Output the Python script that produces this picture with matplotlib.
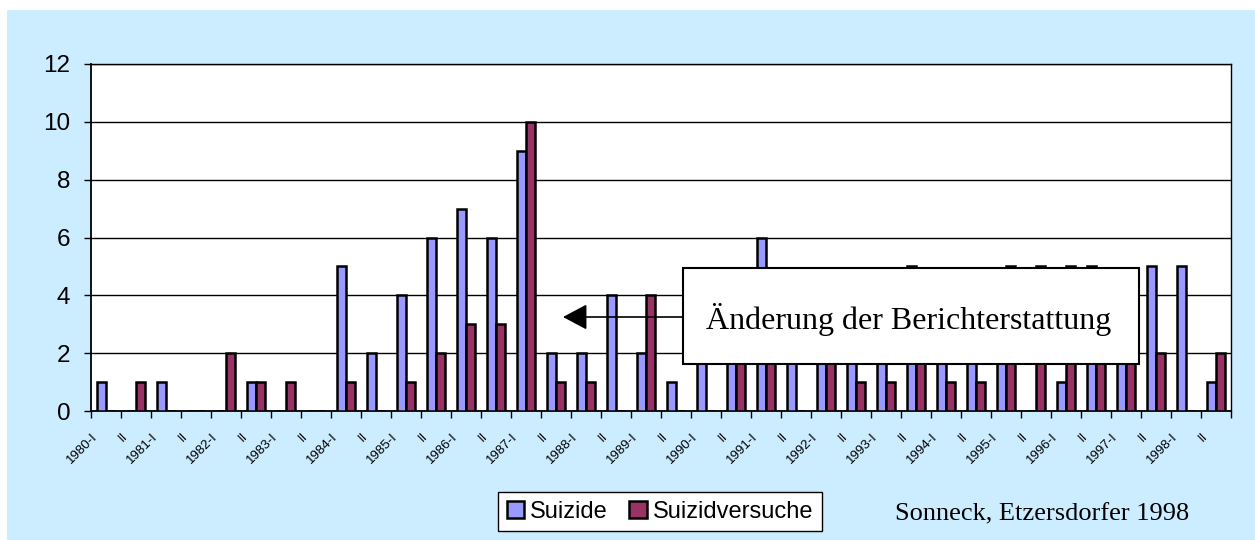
import matplotlib
matplotlib.use("Agg")
import matplotlib.pyplot as plt
import matplotlib.transforms as mtransforms
from matplotlib.patches import Rectangle, Patch, FancyArrowPatch
import numpy as np

categories = ["1980-I", "II", "1981-I", "II", "1982-I", "II", "1983-I", "II",
              "1984-I", "II", "1985-I", "II", "1986-I", "II", "1987-I", "II",
              "1988-I", "II", "1989-I", "II", "1990-I", "II", "1991-I", "II",
              "1992-I", "II", "1993-I", "II", "1994-I", "II", "1995-I", "II",
              "1996-I", "II", "1997-I", "II", "1998-I", "II"]
suizide = [1, 0, 1, 0, 0, 1, 0, 0, 5, 2, 4, 6, 7, 6, 9, 2, 2, 4, 2, 1,
           3, 3, 6, 2, 3, 4, 3, 5, 3, 2, 3, 0, 1, 5, 3, 5, 5, 1]
suizidversuche = [0, 1, 0, 0, 2, 1, 1, 0, 1, 0, 1, 2, 3, 3, 10, 1, 1, 0, 4, 0,
                  0, 2, 3, 0, 2, 1, 1, 2, 1, 1, 5, 5, 5, 3, 2, 2, 0, 2]
yticks = [0, 2, 4, 6, 8, 10, 12]

W, H = 1255, 540
fig = plt.figure(figsize=(W / 100, H / 100), dpi=100)
fig.patch.set_facecolor("white")
bg = Rectangle((7 / W, 0), 1 - 7 / W, 1 - 10 / H, transform=fig.transFigure,
               facecolor="#CCECFF", edgecolor="none", zorder=-5)
fig.add_artist(bg)

ax = fig.add_axes([91 / W, 1 - 411 / H, (1231 - 91) / W, (411 - 64) / H])
ax.set_zorder(1)
ax.set_facecolor("white")
x = np.arange(len(categories))
bw = 0.3
ax.bar(x - bw / 2, suizide, bw, color="#9999FF", edgecolor="black",
       linewidth=1.8, zorder=3, label="Suizide")
ax.bar(x + bw / 2, suizidversuche, bw, color="#993366", edgecolor="black",
       linewidth=1.8, zorder=3, label="Suizidversuche")

ax.set_xlim(-0.5, len(categories) - 0.5)
ax.set_ylim(0, 12)
ax.set_yticks(yticks)
ax.set_yticklabels([str(v) for v in yticks], fontsize=17.5, family="Liberation Sans")
ax.yaxis.grid(True, color="black", linewidth=1.0, zorder=1)
ax.set_axisbelow(True)
for s in ax.spines.values():
    s.set_color("black")
    s.set_linewidth(1.0)
ax.spines["left"].set_linewidth(1.3)
ax.spines["bottom"].set_linewidth(1.3)
ax.tick_params(axis="y", length=5, width=1, direction="out", pad=10)

ax.set_xticks(x)
ax.set_xticklabels(categories, rotation=45, ha="right", va="top",
                   fontsize=9.5, family="Liberation Sans")
ax.set_xticks(np.arange(len(categories) + 1) - 0.5, minor=True)
ax.tick_params(axis="x", which="major", length=0, pad=14)
ax.tick_params(axis="x", which="minor", length=5, width=1, direction="out")
offset = mtransforms.ScaledTranslation(-6 / 100, 0, fig.dpi_scale_trans)
for lab in ax.get_xticklabels():
    lab.set_transform(lab.get_transform() + offset)

# annotation box and arrow
box = Rectangle((683 / W, 1 - 364 / H), (1139 - 683) / W, (364 - 268) / H,
                transform=fig.transFigure, facecolor="white",
                edgecolor="black", linewidth=1.5, zorder=10)
fig.add_artist(box)
fig.text((683 + 1139) / 2 / W - 2 / W, 1 - 320 / H, "Änderung der Berichterstattung",
         ha="center", va="center", fontsize=23, family="Liberation Serif",
         zorder=11)
fig.add_artist(FancyArrowPatch(
    (683 / W, 1 - 317 / H), (563 / W, 1 - 317 / H), transform=fig.transFigure,
    arrowstyle="-|>,head_length=1.5,head_width=0.8", color="black",
    linewidth=1.2, mutation_scale=10, shrinkA=0, shrinkB=0, zorder=11))

handles = [Patch(facecolor="#9999FF", edgecolor="black", linewidth=1.8),
           Patch(facecolor="#993366", edgecolor="black", linewidth=1.8)]
leg = fig.legend(handles, ["Suizide", "Suizidversuche"], loc="center",
                 bbox_to_anchor=((497 + 823) / 2 / W, 1 - 511.5 / H), ncol=2,
                 prop={"family": "Liberation Sans", "size": 17},
                 frameon=True, fancybox=False, edgecolor="black", framealpha=1,
                 handlelength=0.75, handleheight=0.75, handletextpad=0.25,
                 columnspacing=0.9, borderpad=0.35, borderaxespad=0)
leg.get_frame().set_linewidth(1.0)
leg.set_zorder(12)

fig.text(895 / W, 1 - 514 / H, "Sonneck, Etzersdorfer 1998", ha="left",
         va="center", fontsize=19, family="Liberation Serif", zorder=12)

fig.savefig("out.png", dpi=100)
